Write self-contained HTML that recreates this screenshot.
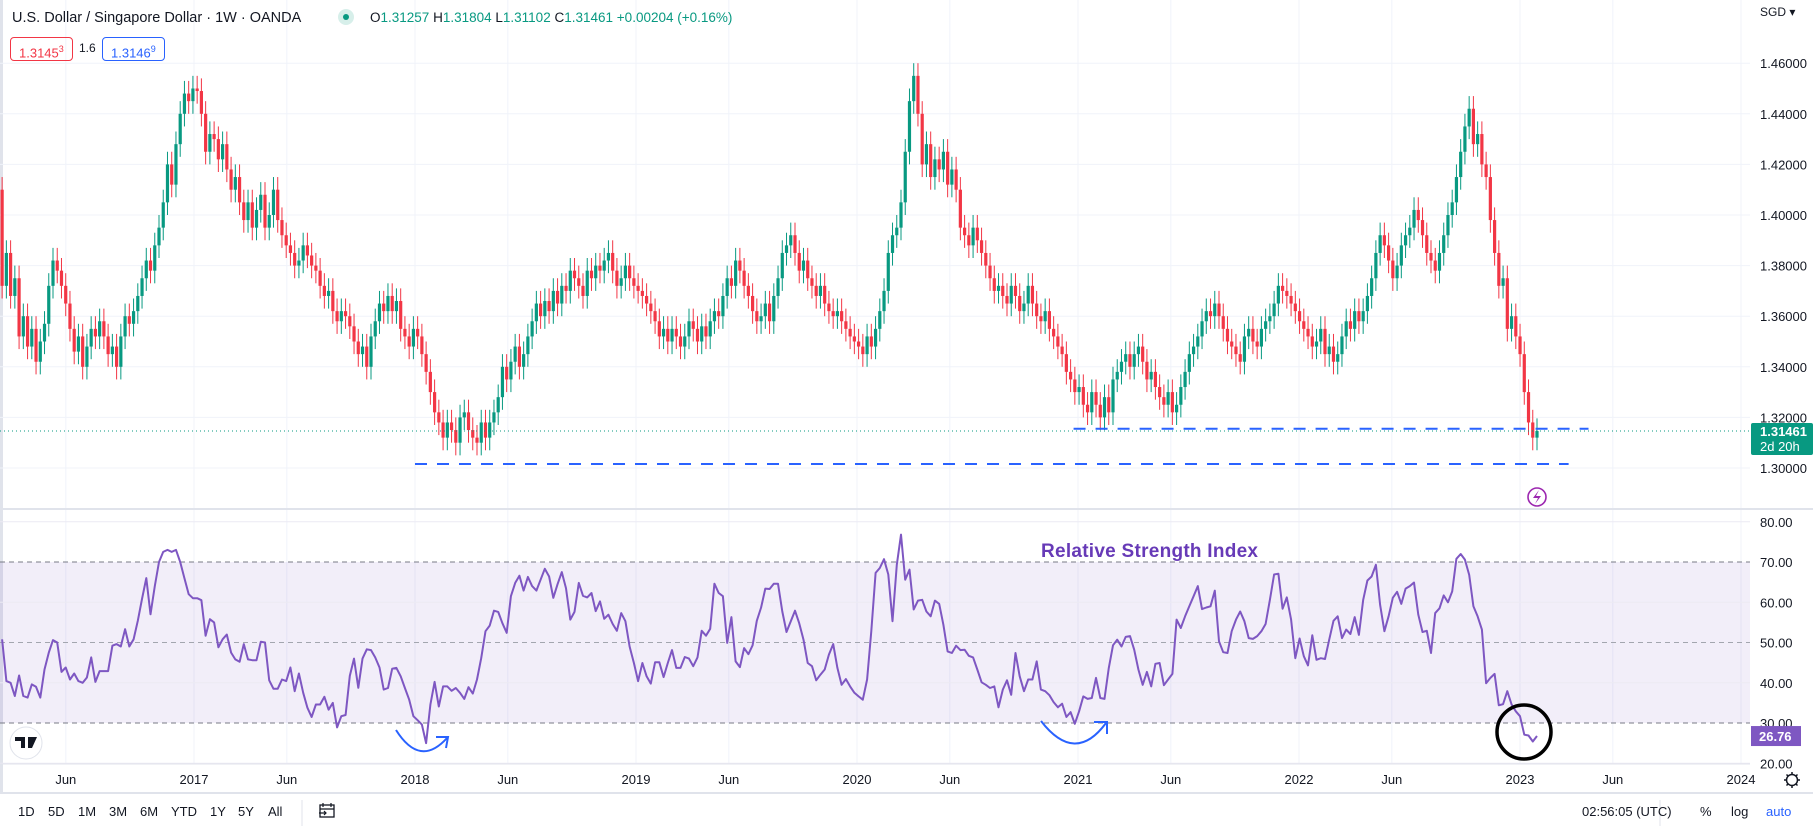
<!DOCTYPE html>
<html><head><meta charset="utf-8"><style>
html,body{margin:0;padding:0;background:#fff;width:1813px;height:830px;overflow:hidden;font-family:"Liberation Sans",sans-serif;color:#131722}
svg{position:absolute;left:0;top:0}
.hdr{position:absolute;font-size:14px;white-space:nowrap}
.tb{position:absolute;top:804px;font-size:13px;color:#131722}
</style></head><body>
<svg id="chart" width="1813" height="830"></svg>
<div class="hdr" style="left:12px;top:10px;font-size:14.5px">U.S. Dollar / Singapore Dollar · 1W · OANDA</div>
<div class="hdr" style="left:338px;top:9px;width:16px;height:16px;border-radius:8px;background:#d7efea"><div style="position:absolute;left:5px;top:5px;width:6px;height:6px;border-radius:3px;background:#089981"></div></div>
<div class="hdr" style="left:370px;top:10px;font-size:13.5px">O<span style="color:#089981">1.31257</span> H<span style="color:#089981">1.31804</span> L<span style="color:#089981">1.31102</span> C<span style="color:#089981">1.31461</span> <span style="color:#089981">+0.00204 (+0.16%)</span></div>
<div class="hdr" style="left:10px;top:37px;height:22px;padding:0 8px;border:1px solid #f23645;border-radius:4px;color:#f23645;font-size:13px;line-height:22px">1.3145<sup style="font-size:9px">3</sup></div>
<div class="hdr" style="left:79px;top:41px;font-size:12px">1.6</div>
<div class="hdr" style="left:102px;top:37px;height:22px;padding:0 8px;border:1px solid #2962ff;border-radius:4px;color:#2962ff;font-size:13px;line-height:22px">1.3146<sup style="font-size:9px">9</sup></div>
<div class="tb" style="left:18px">1D</div>
<div class="tb" style="left:48px">5D</div>
<div class="tb" style="left:78px">1M</div>
<div class="tb" style="left:109px">3M</div>
<div class="tb" style="left:140px">6M</div>
<div class="tb" style="left:171px">YTD</div>
<div class="tb" style="left:210px">1Y</div>
<div class="tb" style="left:238px">5Y</div>
<div class="tb" style="left:268px">All</div>
<div class="tb" style="left:1582px">02:56:05 (UTC)</div>
<div class="tb" style="left:1700px">%</div>
<div class="tb" style="left:1731px">log</div>
<div class="tb" style="left:1766px;color:#2962ff">auto</div>
<script>
const closes2016=[1.410,1.372,1.385,1.368,1.375,1.352,1.360,1.348,1.355,1.342,1.350,1.357,1.372,1.382,1.378,1.372,1.365,1.355,1.346,1.352,1.340,1.348,1.355,1.352,1.358,1.352,1.345,1.348,1.340,1.352,1.360,1.357,1.362,1.368,1.375,1.382,1.378,1.388,1.395,1.405,1.420,1.412,1.428,1.440,1.448,1.445,1.450];
const closes2017=[1.449,1.440,1.425,1.432,1.430,1.422,1.428,1.418,1.410,1.415,1.405,1.398,1.405,1.395,1.402,1.408,1.395,1.400,1.410,1.398,1.392,1.388,1.385,1.380,1.382,1.388,1.384,1.380,1.378,1.372,1.368,1.370,1.362,1.358,1.362,1.360,1.356,1.350,1.345,1.348,1.340,1.352,1.358,1.365,1.362,1.368,1.362,1.366,1.355,1.352,1.348,1.355,1.352,1.345,1.338];
const closes2018=[1.330,1.322,1.318,1.312,1.318,1.315,1.310,1.320,1.322,1.315,1.312,1.310,1.318,1.312,1.318,1.322,1.328,1.340,1.335,1.342,1.348,1.340,1.345,1.352,1.358,1.365,1.360,1.366,1.362,1.370,1.365,1.372,1.370,1.378,1.375,1.372,1.368,1.378,1.375,1.380,1.378,1.382,1.385,1.378,1.372,1.375,1.380,1.375,1.372,1.370,1.368,1.365];
const closes2019=[1.362,1.358,1.352,1.355,1.350,1.355,1.352,1.348,1.352,1.358,1.355,1.350,1.356,1.352,1.358,1.362,1.360,1.368,1.375,1.372,1.382,1.378,1.372,1.368,1.362,1.358,1.360,1.365,1.358,1.368,1.375,1.385,1.388,1.392,1.385,1.378,1.382,1.375,1.372,1.368,1.372,1.365,1.362,1.360,1.362,1.358,1.355,1.352,1.350,1.348,1.345,1.352];
const closes2020=[1.348,1.355,1.362,1.370,1.385,1.392,1.395,1.405,1.425,1.445,1.455,1.440,1.420,1.428,1.415,1.422,1.418,1.425,1.412,1.418,1.410,1.395,1.392,1.388,1.395,1.390,1.385,1.380,1.375,1.370,1.372,1.368,1.365,1.372,1.368,1.362,1.365,1.372,1.365,1.360,1.358,1.362,1.355,1.352,1.348,1.345,1.338,1.335,1.330,1.332,1.325];
const closes2021=[1.322,1.330,1.325,1.320,1.328,1.322,1.335,1.338,1.342,1.345,1.340,1.345,1.348,1.342,1.335,1.338,1.332,1.328,1.325,1.330,1.322,1.325,1.332,1.338,1.345,1.348,1.352,1.358,1.362,1.360,1.365,1.360,1.355,1.350,1.348,1.345,1.342,1.352,1.355,1.350,1.348,1.355,1.358,1.360,1.365,1.372,1.370,1.368,1.365,1.362,1.358,1.355];
const closes2022=[1.352,1.348,1.350,1.355,1.345,1.348,1.342,1.345,1.352,1.358,1.355,1.362,1.358,1.362,1.368,1.375,1.385,1.392,1.388,1.382,1.375,1.380,1.388,1.392,1.395,1.402,1.398,1.392,1.385,1.382,1.378,1.385,1.392,1.400,1.405,1.415,1.425,1.435,1.442,1.428,1.432,1.420,1.415,1.398,1.385,1.372,1.375,1.355,1.360,1.352,1.345];
const closes2023=[1.330,1.318,1.312,1.31461];
const firstOpen=1.405;
const rsiValues=[50.8,40.4,40,36.7,41.8,36.7,36.3,39.6,39,36.3,43.3,47.5,50.6,50,42.7,43.8,40.8,42.3,40.4,40,41.3,46.3,40.2,42.9,42.9,42.9,49.2,49.6,49,53.3,49,50.8,55.4,60.8,
66,57,64,70,72.5,73,72.5,73,70,66,62,61,61,60.5,
51.7,55.8,55,48.8,50.8,52,47.5,45.8,45.2,49.6,45.8,45.6,45.6,50.2,50,40.6,38.5,38.5,40.8,40.4,43.8,37.9,42.3,37.5,33.8,31.5,34.6,34.6,36.5,33.3,35,28.9,31.7,32,41.7,46,38.75,46,48.3,48.1,46.3,43.8,38.3,38.7,43.5,
43.7,41.6,38.7,35.8,31.7,30.7,29.6,25,34.6,40.2,34.1,39.1,39.1,38,38.7,37.5,36,38.9,37.3,40.8,46.1,52.8,54.2,57.9,57.6,54.8,52.4,61.5,64.8,66.6,62.9,66.3,64,62.9,65.6,68.3,66.4,61.1,64.5,67.5,63.5,55.7,57.6,64.8,61.6,61.2,62.3,57.8,60.2,55.9,56.9,54.6,52.9,57.3,55.3,49,44.9,40.4,44.9,41.6,39.8,45.1,45.1,41.4,44.9,48.1,43.7,43.7,46.4,46,44.1,46.3,52.9,51.7,53.4,64.6,62.3,61.5,49.9,56.3,45.3,43.9,48.6,47.1,49.3,55.4,58.7,63.4,63.3,64.6,64.6,
57.7,52.6,55.3,57.9,54.8,50.7,44.9,44.1,40.6,42,43.3,47,49.6,43.7,39.5,40.9,39.1,37.5,36.6,35.8,40.8,52.8,67.3,68.5,70.7,66.9,55.3,69.3,76.8,65.6,68.1,58.2,60.4,60.6,57.7,56.5,60.4,59.6,54.4,47.8,47.4,49.2,48.1,48.2,46.7,46.3,43.3,40.1,39.5,38.7,39.1,33.9,38.3,40.6,37,47.4,41.6,37.9,40.8,40.8,45.3,38.3,37.9,36.9,35.2,33.9,34.8,31.5,32.7,29.8,32.9,36.6,36,36.2,41.2,36.2,36,43.7,49.3,50.7,49,51.4,51.6,48.2,43.3,39.5,42.7,39.1,44.7,44.9,
39.4,40.8,42.2,55.7,53.6,56.5,59,61.5,64,58.3,58.7,59,62.9,50.3,47.6,47.4,52.8,55.7,57.7,55.3,51.1,50.9,51.6,52.8,54.6,60.6,66.9,67.1,58.4,61.2,55.7,46.1,51,46.6,44.3,51.8,45.7,46.1,45.9,50.7,55.4,56.5,51.1,53.2,52.1,56.3,51.9,60.6,65.4,66.4,69.3,59.4,52.8,56.5,61.1,62.6,59.6,63.4,64,64.9,56.9,52.6,52.9,47.4,57.3,58.5,61.7,60,62.7,70.8,72,70.6,66.8,59,56.5,53.2,39.9,41.2,42.2,34.4,34.7,37.9,34.6,32.9,31.7,27.1,26.9,25.4,26.76];
const priceTicks=[1.30,1.32,1.34,1.36,1.38,1.40,1.42,1.44,1.46];
const rsiTicks=[20,30,40,50,60,70,80];
const timeLabels=["Jun","2017","Jun","2018","Jun","2019","Jun","2020","Jun","2021","Jun","2022","Jun","2023","Jun","2024"];
const timeValues=[2016.42,2017,2017.42,2018,2018.42,2019,2019.42,2020,2020.42,2021,2021.42,2022,2022.42,2023,2023.42,2024];
const supportLevels=[1.3016,1.3155];
const supportStarts=[2018.0,2020.98];
const supportEnds=[2023.22,2023.31];
const lastPrice=1.31461, lastRsi=26.76;

const NS="http://www.w3.org/2000/svg";
const svg=document.getElementById('chart');
function el(tag,attrs,parent){const e=document.createElementNS(NS,tag);for(const k in attrs)e.setAttribute(k,attrs[k]);(parent||svg).appendChild(e);return e;}
const PLOT_R=1750, STEP=4.24, LAST_X=1537;
const yP=p=>468-(p-1.30)/0.02*50.6;
const yR=r=>723-(r-30)*4.025;
const xT=t=>194+(t-2017)*221;
const closes=[].concat(closes2016,closes2017,closes2018,closes2019,closes2020,closes2021,closes2022,closes2023);
const xI=(i,n)=>LAST_X-(n-1-i)*STEP;

let g=el('g',{});


el('rect',{x:0,y:0,width:3,height:793,fill:'#e0e3eb'},g);
timeValues.forEach(t=>{const x=xT(t);if(x<PLOT_R){el('line',{x1:x,x2:x,y1:0,y2:764,stroke:'#f0f3fa','stroke-width':1},g);}});
priceTicks.forEach(p=>el('line',{x1:0,x2:PLOT_R,y1:yP(p),y2:yP(p),stroke:'#f0f3fa'},g));
el('rect',{x:0,y:yR(70),width:PLOT_R,height:yR(30)-yR(70),fill:'#7e57c2','fill-opacity':0.1},g);
[80,60,40,20].forEach(r=>el('line',{x1:0,x2:PLOT_R,y1:yR(r),y2:yR(r),stroke:'#eceaf3'},g));
el('line',{x1:0,x2:1813,y1:509,y2:509,stroke:'#e0e3eb','stroke-width':2},g);
el('line',{x1:0,x2:PLOT_R,y1:764,y2:764,stroke:'#e0e3eb'},g);
el('line',{x1:0,x2:1813,y1:793,y2:793,stroke:'#e0e3eb','stroke-width':2},g);
[70,30].forEach(r=>el('line',{x1:0,x2:PLOT_R,y1:yR(r),y2:yR(r),stroke:'#787b86','stroke-dasharray':'5,4'},g));
el('line',{x1:0,x2:PLOT_R,y1:yR(50),y2:yR(50),stroke:'#a3a6af','stroke-dasharray':'5,4'},g);

const cg=el('g',{});


closes.forEach((c,i)=>{
  const o=i===0?firstOpen:closes[i-1];
  const x=xI(i,closes.length);
  const up=c>=o, col=up?'#089981':'#f23645';
  const hi=Math.max(o,c)+0.005, lo=Math.min(o,c)-0.005;
  const w=el('line',{x1:x,x2:x,y1:yP(hi),y2:yP(lo),stroke:col,'stroke-width':1},cg);
  
  
  const top=yP(Math.max(o,c)),bot=yP(Math.min(o,c));
  const b=el('rect',{x:x-1.6,y:top,width:3.2,height:Math.max(1,bot-top),fill:col},cg);
  
  
});

supportLevels.forEach((lv,k)=>{
  const l=el('line',{x1:xT(supportStarts[k]),x2:xT(supportEnds[k]),y1:yP(lv),y2:yP(lv),stroke:'#2962ff','stroke-width':2,'stroke-dasharray':'12,10'});
  
  
});
const lp=el('line',{x1:0,x2:PLOT_R,y1:yP(lastPrice),y2:yP(lastPrice),stroke:'#089981','stroke-dasharray':'1,3'});



priceTicks.forEach(p=>{const t=el('text',{x:1760,y:yP(p)+5,'font-size':13,fill:'#131722','font-family':'Liberation Sans'});t.textContent=p.toFixed(5);

});
const sgd=el('text',{x:1760,y:16,'font-size':12,fill:'#131722'});sgd.textContent='SGD ▾';


const pb=el('rect',{x:1751,y:yP(lastPrice)-8,width:62,height:32,fill:'#089981',rx:2});


let t1=el('text',{x:1760,y:yP(lastPrice)+5,'font-size':13,'font-weight':'bold',fill:'#fff'});t1.textContent=lastPrice.toFixed(5);


let t2=el('text',{x:1760,y:yP(lastPrice)+20,'font-size':13,fill:'#fff'});t2.textContent='2d 20h';



const li=el('g',{});


el('circle',{cx:1537,cy:497,r:9,fill:'none',stroke:'#9c27b0','stroke-width':1.6},li);
el('path',{d:'M1539 490 L1533 498 L1538 498 L1535 504 L1541 496 L1536 496 Z',fill:'#9c27b0'},li);

const pts=rsiValues.map((r,i)=>xI(i,rsiValues.length).toFixed(1)+','+yR(r).toFixed(1)).join(' ');
const rl=el('polyline',{points:pts,fill:'none',stroke:'#7e57c2','stroke-width':2,'stroke-linejoin':'round'});


rsiTicks.forEach(r=>{const t=el('text',{x:1760,y:yR(r)+5,'font-size':13,fill:'#131722'});t.textContent=r.toFixed(2);

});
const rb=el('rect',{x:1751,y:yR(lastRsi)-10,width:50,height:20,fill:'#7e57c2'});


const rt=el('text',{x:1759,y:yR(lastRsi)+5,'font-size':13,'font-weight':'bold',fill:'#fff'});rt.textContent=lastRsi.toFixed(2);


const title=el('text',{x:1041,y:557,'font-size':19,'font-weight':'bold',fill:'#673ab7',textLength:217});title.textContent='Relative Strength Index';



const c1=el('circle',{cx:1524,cy:732,r:27,fill:'none',stroke:'#000','stroke-width':3.5});


const a1=el('path',{d:'M396 730 Q420 768 447 738 M436 737 L448 737 L446 748',fill:'none',stroke:'#2962ff','stroke-width':2});


const a2=el('path',{d:'M1041 721 Q1075 765 1106 723 M1094 722 L1107 722 L1107 734',fill:'none',stroke:'#2962ff','stroke-width':2});



timeLabels.forEach((lab,i)=>{const x=xT(timeValues[i]);if(x>PLOT_R-5)return;const t=el('text',{x:x,y:784,'font-size':13,fill:'#131722','text-anchor':'middle'});t.textContent=lab;

});

const lg=el('g',{});


el('circle',{cx:26,cy:743,r:16,fill:'#fff',stroke:'#e0e3eb'},lg);
el('path',{d:'M15 737 H25 V748 H21 V741 H15 Z M28 737 H37 L32 748 H28 Z',fill:'#131722'},lg);
const gr=el('g',{});


el('circle',{cx:1792,cy:780,r:5.5,fill:'none',stroke:'#131722','stroke-width':1.5},gr);
el('path',{d:'M1792 772v3M1792 785v3M1784 780h3M1797 780h3M1786.5 774.5l2 2M1795.5 783.5l2 2M1786.5 785.5l2-2M1795.5 776.5l2-2',stroke:'#131722','stroke-width':1.5},gr);
el('line',{x1:302,x2:302,y1:800,y2:826,stroke:'#e0e3eb'});
el('line',{x1:1660,x2:1660,y1:800,y2:826,stroke:'#e0e3eb'});
const cal=el('g',{});


el('rect',{x:320,y:805,width:14,height:12,fill:'none',stroke:'#131722','stroke-width':1.3},cal);
el('path',{d:'M320 809h14M323 803v4M331 803v4M319 813h7M324 811l2 2-2 2',fill:'none',stroke:'#131722','stroke-width':1.2},cal);
</script>
</body></html>
